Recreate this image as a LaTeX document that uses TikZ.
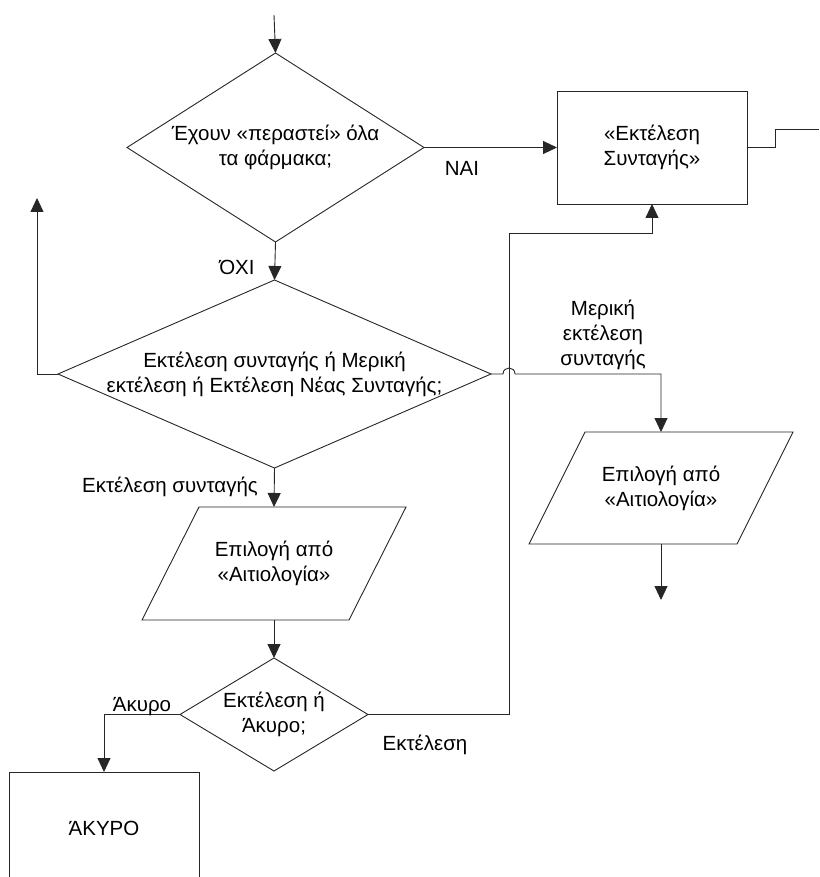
\documentclass[tikz,border=0pt]{standalone}
\usepackage{fontspec}
\setmainfont{Liberation Sans}
\usetikzlibrary{shapes.geometric,arrows.meta,calc}
\begin{document}
\begin{tikzpicture}[x=1pt,y=-1pt,
  line/.style={draw=black!85, line width=0.9pt},
  arr/.style={line, -{Triangle[length=14pt,width=13pt]}},
  dia/.style={diamond, draw=black!85, line width=0.9pt, inner sep=0pt, outer sep=0pt},
  boxn/.style={rectangle, draw=black!85, line width=0.9pt, inner sep=0pt, outer sep=0pt, minimum width=190pt, minimum height=113pt},
  pframe/.style={rectangle, inner sep=0pt, outer sep=0pt, minimum width=264pt, minimum height=113pt},
  txt/.style={font=\fontsize{20.5}{25}\selectfont, align=center, inner sep=0pt},
  lbl/.style={font=\fontsize{20.5}{25}\selectfont, align=center, inner sep=0pt}
]
\useasboundingbox (0,0) rectangle (819,877);
\clip (0,0) rectangle (819,877);

% shapes
\node[dia, minimum width=297pt, minimum height=189pt] (d1) at (275.5,147.5) {};
\node[txt] (d1t) at (d1) {Έχουν «περαστεί» όλα\\τα φάρμακα;};

\node[boxn] (b1) at (652,147.5) {};
\node[txt] (b1t) at (b1) {«Εκτέλεση\\Συνταγής»};

\node[dia, minimum width=433pt, minimum height=188pt] (d2) at (274.5,374) {};
\node[txt] (d2t) at (d2) {Εκτέλεση συνταγής ή Μερική\\εκτέλεση ή Εκτέλεση Νέας Συνταγής;};

\node[pframe] (p1) at (274,563.5) {};
\draw[line] ($(p1.north west)+(57,0)$) -- (p1.north east) -- ($(p1.south east)-(57,0)$) -- (p1.south west) -- cycle;
\node[txt] (p1t) at (p1) {Επιλογή από\\«Αιτιολογία»};

\node[pframe, minimum height=112pt] (p2) at (661,488) {};
\draw[line] ($(p2.north west)+(56,0)$) -- (p2.north east) -- ($(p2.south east)-(56,0)$) -- (p2.south west) -- cycle;
\node[txt] (p2t) at (p2) {Επιλογή από\\«Αιτιολογία»};

\node[dia, minimum width=188pt, minimum height=113pt] (d3) at (274,714.5) {};
\node[txt] (d3t) at (d3) {Εκτέλεση ή\\Άκυρο;};

\node[boxn] (akyro) at (104,828.5) {};
\node[txt] (akyrot) at (akyro) {ΆΚΥΡΟ};

% free ends
\coordinate (start) at (274,15);
\coordinate (upend) at (37,198);
\coordinate (exitend) at (819,129);
\coordinate (p2end) at (661,600);

% connectors
\draw[arr] (start) -- (d1.north);
\draw[arr] (d1.east) -- (b1.west);
\draw[line] (b1.east) -- (775,147.5) |- (exitend);
\draw[arr] (d1.south) -- (d2.north);
\draw[arr] (d2.west) -| (upend);
\draw[arr] (d2.south) -- (p1.north);
\draw[arr] (d2.east) -- (503,374) .. controls (503,366) and (515,366) .. (515,374) -| (p2.north);
\draw[arr] (p2.south) -- (p2end);
\draw[arr] (p1.south) -- (d3.north);
\draw[arr] (d3.east) -- (509,714.5) -- (509,233) -| (b1.south);
\draw[arr] (d3.west) -| (akyro.north);

% labels
\node[lbl] (lnai) at (462,168) {ΝΑΙ};
\node[lbl] (loxi) at (237,267) {ΌΧΙ};
\node[lbl] (lmer) at (603,335) {Μερική\\εκτέλεση\\συνταγής};
\node[lbl, anchor=east] (lexs) at (258,487) {Εκτέλεση συνταγής};
\node[lbl] (lak) at (142,707) {Άκυρο};
\node[lbl] (lext) at (425,745) {Εκτέλεση};
\end{tikzpicture}
\end{document}
